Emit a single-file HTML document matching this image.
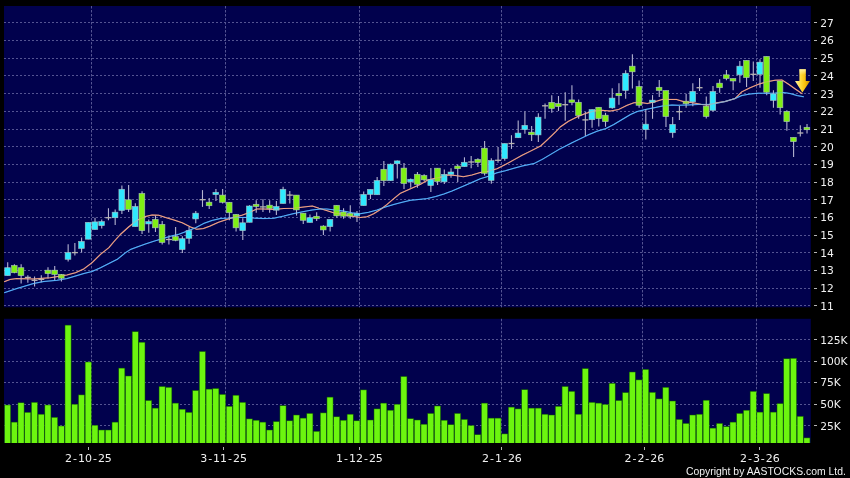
<!DOCTYPE html>
<html><head><meta charset="utf-8"><title>Chart</title>
<style>html,body{margin:0;padding:0;background:#000;overflow:hidden}svg{display:block;will-change:transform}</style></head>
<body><svg width="850" height="478" viewBox="0 0 850 478">
<rect width="850" height="478" fill="#000"/>
<rect x="4" y="6" width="806.8" height="301.3" fill="#01014d"/>
<rect x="4" y="318.8" width="806.8" height="124.3" fill="#01014d"/>
<g stroke="#545492" stroke-width="1" stroke-dasharray="2 2" fill="none">
<path d="M4 22.5H810.8"/>
<path d="M4 40.5H810.8"/>
<path d="M4 58.5H810.8"/>
<path d="M4 75.5H810.8"/>
<path d="M4 93.5H810.8"/>
<path d="M4 111.5H810.8"/>
<path d="M4 129.5H810.8"/>
<path d="M4 146.5H810.8"/>
<path d="M4 164.5H810.8"/>
<path d="M4 182.5H810.8"/>
<path d="M4 199.5H810.8"/>
<path d="M4 217.5H810.8"/>
<path d="M4 235.5H810.8"/>
<path d="M4 252.5H810.8"/>
<path d="M4 270.5H810.8"/>
<path d="M4 288.5H810.8"/>
<path d="M4 305.5H810.8"/>
<path d="M4 339.5H810.8"/>
<path d="M4 361.5H810.8"/>
<path d="M4 382.5H810.8"/>
<path d="M4 404.5H810.8"/>
<path d="M4 425.5H810.8"/>
<path d="M91.5 6V307.3" stroke-dasharray="2.5 1.5"/>
<path d="M91.5 318.8V443" stroke-dasharray="2.5 1.5"/>
<path d="M225.5 6V307.3" stroke-dasharray="2.5 1.5"/>
<path d="M225.5 318.8V443" stroke-dasharray="2.5 1.5"/>
<path d="M359.5 6V307.3" stroke-dasharray="2.5 1.5"/>
<path d="M359.5 318.8V443" stroke-dasharray="2.5 1.5"/>
<path d="M501.5 6V307.3" stroke-dasharray="2.5 1.5"/>
<path d="M501.5 318.8V443" stroke-dasharray="2.5 1.5"/>
<path d="M642.5 6V307.3" stroke-dasharray="2.5 1.5"/>
<path d="M642.5 318.8V443" stroke-dasharray="2.5 1.5"/>
<path d="M756.5 6V307.3" stroke-dasharray="2.5 1.5"/>
<path d="M756.5 318.8V443" stroke-dasharray="2.5 1.5"/>
</g>
<g fill="#6cf50f" stroke="#0c5800" stroke-width="0.5">
<rect x="4.55" y="405.0" width="6.1" height="39.0"/>
<rect x="11.27" y="422.1" width="6.1" height="21.9"/>
<rect x="17.98" y="402.8" width="6.1" height="41.2"/>
<rect x="24.70" y="412.3" width="6.1" height="31.7"/>
<rect x="31.42" y="402.3" width="6.1" height="41.7"/>
<rect x="38.14" y="414.2" width="6.1" height="29.8"/>
<rect x="44.85" y="405.0" width="6.1" height="39.0"/>
<rect x="51.57" y="417.3" width="6.1" height="26.7"/>
<rect x="58.29" y="426.0" width="6.1" height="18.0"/>
<rect x="65.00" y="325.1" width="6.1" height="118.9"/>
<rect x="71.72" y="404.2" width="6.1" height="39.8"/>
<rect x="78.44" y="394.9" width="6.1" height="49.1"/>
<rect x="85.15" y="362.0" width="6.1" height="82.0"/>
<rect x="91.87" y="425.2" width="6.1" height="18.8"/>
<rect x="98.59" y="430.0" width="6.1" height="14.0"/>
<rect x="105.30" y="430.0" width="6.1" height="14.0"/>
<rect x="112.02" y="422.1" width="6.1" height="21.9"/>
<rect x="118.74" y="368.1" width="6.1" height="75.9"/>
<rect x="125.46" y="376.0" width="6.1" height="68.0"/>
<rect x="132.17" y="331.7" width="6.1" height="112.3"/>
<rect x="138.89" y="342.2" width="6.1" height="101.8"/>
<rect x="145.61" y="400.5" width="6.1" height="43.5"/>
<rect x="152.32" y="408.1" width="6.1" height="35.9"/>
<rect x="159.04" y="386.5" width="6.1" height="57.5"/>
<rect x="165.76" y="387.3" width="6.1" height="56.7"/>
<rect x="172.47" y="403.1" width="6.1" height="40.9"/>
<rect x="179.19" y="409.2" width="6.1" height="34.8"/>
<rect x="185.91" y="412.3" width="6.1" height="31.7"/>
<rect x="192.63" y="390.5" width="6.1" height="53.5"/>
<rect x="199.34" y="351.5" width="6.1" height="92.5"/>
<rect x="206.06" y="389.1" width="6.1" height="54.9"/>
<rect x="212.78" y="388.5" width="6.1" height="55.5"/>
<rect x="219.49" y="394.4" width="6.1" height="49.6"/>
<rect x="226.21" y="406.3" width="6.1" height="37.7"/>
<rect x="232.93" y="395.2" width="6.1" height="48.8"/>
<rect x="239.65" y="402.3" width="6.1" height="41.7"/>
<rect x="246.36" y="418.9" width="6.1" height="25.1"/>
<rect x="253.08" y="420.2" width="6.1" height="23.8"/>
<rect x="259.80" y="422.1" width="6.1" height="21.9"/>
<rect x="266.51" y="430.0" width="6.1" height="14.0"/>
<rect x="273.23" y="421.6" width="6.1" height="22.4"/>
<rect x="279.95" y="405.7" width="6.1" height="38.3"/>
<rect x="286.66" y="420.8" width="6.1" height="23.2"/>
<rect x="293.38" y="415.0" width="6.1" height="29.0"/>
<rect x="300.10" y="418.1" width="6.1" height="25.9"/>
<rect x="306.81" y="413.4" width="6.1" height="30.6"/>
<rect x="313.53" y="431.3" width="6.1" height="12.7"/>
<rect x="320.25" y="412.9" width="6.1" height="31.1"/>
<rect x="326.97" y="397.1" width="6.1" height="46.9"/>
<rect x="333.68" y="416.8" width="6.1" height="27.2"/>
<rect x="340.40" y="420.2" width="6.1" height="23.8"/>
<rect x="347.12" y="414.2" width="6.1" height="29.8"/>
<rect x="353.83" y="420.8" width="6.1" height="23.2"/>
<rect x="360.55" y="389.9" width="6.1" height="54.1"/>
<rect x="367.27" y="420.0" width="6.1" height="24.0"/>
<rect x="373.99" y="408.9" width="6.1" height="35.1"/>
<rect x="380.70" y="403.1" width="6.1" height="40.9"/>
<rect x="387.42" y="410.2" width="6.1" height="33.8"/>
<rect x="394.14" y="404.2" width="6.1" height="39.8"/>
<rect x="400.85" y="376.5" width="6.1" height="67.5"/>
<rect x="407.57" y="418.7" width="6.1" height="25.3"/>
<rect x="414.29" y="420.0" width="6.1" height="24.0"/>
<rect x="421.00" y="424.2" width="6.1" height="19.8"/>
<rect x="427.72" y="413.4" width="6.1" height="30.6"/>
<rect x="434.44" y="406.0" width="6.1" height="38.0"/>
<rect x="441.15" y="420.2" width="6.1" height="23.8"/>
<rect x="447.87" y="424.7" width="6.1" height="19.3"/>
<rect x="454.59" y="413.4" width="6.1" height="30.6"/>
<rect x="461.31" y="419.4" width="6.1" height="24.6"/>
<rect x="468.02" y="425.5" width="6.1" height="18.5"/>
<rect x="474.74" y="434.7" width="6.1" height="9.3"/>
<rect x="481.46" y="403.1" width="6.1" height="40.9"/>
<rect x="488.17" y="418.1" width="6.1" height="25.9"/>
<rect x="494.89" y="418.1" width="6.1" height="25.9"/>
<rect x="501.61" y="433.9" width="6.1" height="10.1"/>
<rect x="508.32" y="407.1" width="6.1" height="36.9"/>
<rect x="515.04" y="408.9" width="6.1" height="35.1"/>
<rect x="521.76" y="389.7" width="6.1" height="54.3"/>
<rect x="528.48" y="408.1" width="6.1" height="35.9"/>
<rect x="535.19" y="408.1" width="6.1" height="35.9"/>
<rect x="541.91" y="414.2" width="6.1" height="29.8"/>
<rect x="548.63" y="415.0" width="6.1" height="29.0"/>
<rect x="555.34" y="406.3" width="6.1" height="37.7"/>
<rect x="562.06" y="386.5" width="6.1" height="57.5"/>
<rect x="568.78" y="391.3" width="6.1" height="52.7"/>
<rect x="575.49" y="414.2" width="6.1" height="29.8"/>
<rect x="582.21" y="368.6" width="6.1" height="75.4"/>
<rect x="588.93" y="402.3" width="6.1" height="41.7"/>
<rect x="595.65" y="403.1" width="6.1" height="40.9"/>
<rect x="602.36" y="404.4" width="6.1" height="39.6"/>
<rect x="609.08" y="383.3" width="6.1" height="60.7"/>
<rect x="615.80" y="400.5" width="6.1" height="43.5"/>
<rect x="622.51" y="392.6" width="6.1" height="51.4"/>
<rect x="629.23" y="372.0" width="6.1" height="72.0"/>
<rect x="635.95" y="379.9" width="6.1" height="64.1"/>
<rect x="642.66" y="369.4" width="6.1" height="74.6"/>
<rect x="649.38" y="392.3" width="6.1" height="51.7"/>
<rect x="656.10" y="398.9" width="6.1" height="45.1"/>
<rect x="662.82" y="387.3" width="6.1" height="56.7"/>
<rect x="669.53" y="401.0" width="6.1" height="43.0"/>
<rect x="676.25" y="419.4" width="6.1" height="24.6"/>
<rect x="682.97" y="423.4" width="6.1" height="20.6"/>
<rect x="689.68" y="415.0" width="6.1" height="29.0"/>
<rect x="696.40" y="414.2" width="6.1" height="29.8"/>
<rect x="703.12" y="400.2" width="6.1" height="43.8"/>
<rect x="709.83" y="428.1" width="6.1" height="15.9"/>
<rect x="716.55" y="423.4" width="6.1" height="20.6"/>
<rect x="723.27" y="426.6" width="6.1" height="17.4"/>
<rect x="729.99" y="422.1" width="6.1" height="21.9"/>
<rect x="736.70" y="413.4" width="6.1" height="30.6"/>
<rect x="743.42" y="410.2" width="6.1" height="33.8"/>
<rect x="750.14" y="391.3" width="6.1" height="52.7"/>
<rect x="756.85" y="412.1" width="6.1" height="31.9"/>
<rect x="763.57" y="393.6" width="6.1" height="50.4"/>
<rect x="770.29" y="412.1" width="6.1" height="31.9"/>
<rect x="777.00" y="403.6" width="6.1" height="40.4"/>
<rect x="783.72" y="358.8" width="6.1" height="85.2"/>
<rect x="790.44" y="358.3" width="6.1" height="85.7"/>
<rect x="797.16" y="416.3" width="6.1" height="27.7"/>
<rect x="803.87" y="437.9" width="6.1" height="6.1"/>
</g>
<rect x="0" y="443" width="850" height="35" fill="#000"/>
<path d="M4.2 281.8 L10.0 279.4 L16.8 278.6 L33.5 278.9 L50.3 277.7 L67.0 274.9 L75.4 272.7 L83.8 268.9 L92.1 262.7 L100.5 254.3 L108.9 247.6 L113.6 242.0 L120.3 234.5 L128.6 227.0 L137.0 220.3 L145.4 216.6 L152.1 214.9 L158.8 215.2 L165.5 217.4 L173.9 219.9 L182.2 222.8 L190.6 227.0 L196.7 229.3 L203.4 228.6 L210.1 226.1 L218.5 222.3 L226.9 219.4 L235.2 216.9 L241.9 215.2 L248.6 212.7 L257.0 208.9 L263.7 208.9 L273.8 209.4 L283.8 208.5 L293.9 208.2 L303.9 206.9 L312.3 206.0 L319.0 208.2 L325.7 210.2 L333.5 212.8 L343.5 214.5 L351.9 216.2 L360.3 217.5 L367.0 216.7 L373.7 213.7 L380.4 209.5 L387.1 204.4 L393.8 198.6 L400.5 193.2 L407.2 190.2 L413.9 187.2 L420.6 184.3 L427.3 180.2 L434.0 178.5 L442.3 176.8 L446.8 175.0 L455.1 175.4 L463.5 176.7 L471.9 175.0 L480.3 172.5 L488.6 171.2 L497.0 168.7 L505.4 164.5 L513.8 159.9 L522.1 155.3 L530.5 151.1 L540.6 146.0 L547.3 139.8 L555.6 131.8 L560.2 127.0 L568.5 121.2 L576.9 117.0 L585.3 113.6 L593.7 111.1 L602.0 110.3 L610.4 111.1 L618.8 109.4 L627.2 105.3 L633.9 102.7 L640.6 102.4 L647.3 103.6 L654.0 101.9 L662.3 99.4 L672.0 99.4 L676.4 99.4 L684.8 101.9 L693.1 102.8 L701.5 104.4 L708.2 104.9 L716.6 102.8 L725.0 101.6 L735.0 98.6 L741.7 91.9 L750.1 87.7 L758.5 84.3 L766.8 81.8 L775.2 80.2 L781.9 79.9 L788.6 84.3 L795.3 89.0 L802.4 93.9" fill="none" stroke="#eea084" stroke-width="1.05" stroke-linejoin="round"/>
<path d="M4.2 292.7 L16.8 288.6 L33.5 283.6 L43.6 281.6 L57.0 280.3 L67.0 278.6 L75.4 276.1 L83.8 273.6 L92.1 271.4 L100.5 267.7 L108.9 263.5 L117.3 259.3 L125.6 252.6 L130.3 249.6 L137.0 247.1 L145.4 244.0 L153.8 241.2 L162.1 238.7 L170.5 236.2 L178.9 234.2 L187.3 231.1 L195.6 227.8 L203.4 223.6 L211.8 220.6 L220.2 218.6 L228.5 218.1 L236.9 217.4 L245.3 217.4 L253.7 218.1 L263.7 218.6 L273.8 218.2 L283.8 216.1 L293.9 213.6 L303.9 211.5 L312.3 209.9 L320.7 209.0 L326.8 209.0 L335.1 210.0 L343.5 211.1 L351.9 212.8 L360.3 213.7 L368.6 212.3 L377.0 210.0 L385.4 207.0 L393.8 204.4 L402.1 202.3 L410.5 200.3 L418.9 199.4 L427.3 198.6 L435.6 196.6 L444.0 193.9 L452.0 191.0 L466.0 185.0 L471.9 182.4 L480.3 178.7 L488.6 176.2 L497.0 172.8 L505.4 170.7 L513.8 168.3 L522.1 166.1 L533.9 163.6 L542.2 159.4 L550.6 154.4 L559.0 149.4 L565.7 146.0 L572.0 142.7 L587.8 135.1 L597.0 131.2 L605.4 128.7 L613.8 124.5 L622.1 119.5 L630.5 114.5 L637.2 111.6 L645.6 109.4 L654.0 107.8 L662.3 106.1 L672.0 104.9 L678.1 105.3 L688.1 104.9 L698.2 104.4 L708.2 104.4 L716.6 103.3 L725.0 101.6 L735.0 98.6 L741.7 95.6 L750.1 93.9 L758.5 93.2 L766.8 93.3 L775.2 93.1 L783.6 92.5 L790.3 93.6 L797.0 95.6 L803.8 96.8" fill="none" stroke="#56b0f8" stroke-width="1.05" stroke-linejoin="round"/>
<path d="M7.70 262.2V275.6" stroke="#b4b4d0" stroke-width="1.1"/>
<rect x="4.70" y="267.7" width="5.7" height="7.9" fill="#2fe9ff" stroke="#b4c8c8" stroke-width="0.7" stroke-opacity="0.8"/>
<path d="M14.42 264.3V273.2" stroke="#b4b4d0" stroke-width="1.1"/>
<rect x="11.42" y="265.5" width="5.7" height="7.2" fill="#7fef14" stroke="#b4c8c8" stroke-width="0.7" stroke-opacity="0.8"/>
<path d="M21.13 264.3V283.6" stroke="#b4b4d0" stroke-width="1.1"/>
<rect x="18.13" y="267.7" width="5.7" height="7.9" fill="#7fef14" stroke="#b4c8c8" stroke-width="0.7" stroke-opacity="0.8"/>
<path d="M27.85 275.2V282.8" stroke="#b4b4d0" stroke-width="1.1"/>
<path d="M24.85 277.4H30.85" stroke="#b8b4b0" stroke-width="1.3"/>
<path d="M34.57 276.6V286.6" stroke="#b4b4d0" stroke-width="1.1"/>
<path d="M31.57 280.3H37.57" stroke="#b8b4b0" stroke-width="1.3"/>
<path d="M41.29 275.2V282.3" stroke="#b4b4d0" stroke-width="1.1"/>
<path d="M38.29 279.4H44.29" stroke="#b8b4b0" stroke-width="1.3"/>
<path d="M48.00 267.2V278.6" stroke="#b4b4d0" stroke-width="1.1"/>
<rect x="45.00" y="270.2" width="5.7" height="3.4" fill="#7fef14" stroke="#b4c8c8" stroke-width="0.7" stroke-opacity="0.8"/>
<path d="M54.72 266.0V280.3" stroke="#b4b4d0" stroke-width="1.1"/>
<rect x="51.72" y="270.2" width="5.7" height="4.2" fill="#7fef14" stroke="#b4c8c8" stroke-width="0.7" stroke-opacity="0.8"/>
<path d="M61.44 273.9V281.6" stroke="#b4b4d0" stroke-width="1.1"/>
<rect x="58.44" y="274.4" width="5.7" height="3.8" fill="#7fef14" stroke="#b4c8c8" stroke-width="0.7" stroke-opacity="0.8"/>
<path d="M68.15 244.2V261.5" stroke="#b4b4d0" stroke-width="1.1"/>
<rect x="65.15" y="252.6" width="5.7" height="6.7" fill="#2fe9ff" stroke="#b4c8c8" stroke-width="0.7" stroke-opacity="0.8"/>
<path d="M74.87 243.1V255.5" stroke="#b4b4d0" stroke-width="1.1"/>
<path d="M71.87 252.6H77.87" stroke="#b8b4b0" stroke-width="1.3"/>
<path d="M81.59 237.4V252.6" stroke="#b4b4d0" stroke-width="1.1"/>
<rect x="78.59" y="241.5" width="5.7" height="6.9" fill="#2fe9ff" stroke="#b4c8c8" stroke-width="0.7" stroke-opacity="0.8"/>
<path d="M88.30 222.4V239.2" stroke="#b4b4d0" stroke-width="1.1"/>
<rect x="85.30" y="222.4" width="5.7" height="16.8" fill="#2fe9ff" stroke="#b4c8c8" stroke-width="0.7" stroke-opacity="0.8"/>
<path d="M95.02 217.7V229.5" stroke="#b4b4d0" stroke-width="1.1"/>
<rect x="92.02" y="221.9" width="5.7" height="7.6" fill="#2fe9ff" stroke="#b4c8c8" stroke-width="0.7" stroke-opacity="0.8"/>
<path d="M101.74 219.4V228.6" stroke="#b4b4d0" stroke-width="1.1"/>
<rect x="98.74" y="221.6" width="5.7" height="4.0" fill="#2fe9ff" stroke="#b4c8c8" stroke-width="0.7" stroke-opacity="0.8"/>
<path d="M108.45 208.2V220.3" stroke="#b4b4d0" stroke-width="1.1"/>
<path d="M105.45 217.7H111.45" stroke="#b8b4b0" stroke-width="1.3"/>
<path d="M115.17 209.4V224.9" stroke="#b4b4d0" stroke-width="1.1"/>
<rect x="112.17" y="212.2" width="5.7" height="5.5" fill="#2fe9ff" stroke="#b4c8c8" stroke-width="0.7" stroke-opacity="0.8"/>
<path d="M121.89 185.4V213.9" stroke="#b4b4d0" stroke-width="1.1"/>
<rect x="118.89" y="189.3" width="5.7" height="21.2" fill="#2fe9ff" stroke="#b4c8c8" stroke-width="0.7" stroke-opacity="0.8"/>
<path d="M128.61 185.1V211.9" stroke="#b4b4d0" stroke-width="1.1"/>
<rect x="125.61" y="199.8" width="5.7" height="9.6" fill="#7fef14" stroke="#b4c8c8" stroke-width="0.7" stroke-opacity="0.8"/>
<path d="M135.32 203.2V226.6" stroke="#b4b4d0" stroke-width="1.1"/>
<rect x="132.32" y="206.5" width="5.7" height="20.1" fill="#2fe9ff" stroke="#b4c8c8" stroke-width="0.7" stroke-opacity="0.8"/>
<path d="M142.04 191.3V234.0" stroke="#b4b4d0" stroke-width="1.1"/>
<rect x="139.04" y="193.5" width="5.7" height="37.1" fill="#7fef14" stroke="#b4c8c8" stroke-width="0.7" stroke-opacity="0.8"/>
<path d="M148.76 219.4V232.8" stroke="#b4b4d0" stroke-width="1.1"/>
<rect x="145.76" y="221.6" width="5.7" height="2.3" fill="#2fe9ff" stroke="#b4c8c8" stroke-width="0.7" stroke-opacity="0.8"/>
<path d="M155.47 215.6V232.0" stroke="#b4b4d0" stroke-width="1.1"/>
<rect x="152.47" y="219.4" width="5.7" height="8.4" fill="#7fef14" stroke="#b4c8c8" stroke-width="0.7" stroke-opacity="0.8"/>
<path d="M162.19 221.1V244.5" stroke="#b4b4d0" stroke-width="1.1"/>
<rect x="159.19" y="224.4" width="5.7" height="18.0" fill="#7fef14" stroke="#b4c8c8" stroke-width="0.7" stroke-opacity="0.8"/>
<path d="M168.91 236.2V244.5" stroke="#b4b4d0" stroke-width="1.1"/>
<path d="M165.91 239.5H171.91" stroke="#b8b4b0" stroke-width="1.3"/>
<path d="M175.62 227.0V241.2" stroke="#b4b4d0" stroke-width="1.1"/>
<rect x="172.62" y="236.5" width="5.7" height="3.9" fill="#7fef14" stroke="#b4c8c8" stroke-width="0.7" stroke-opacity="0.8"/>
<path d="M182.34 236.2V253.0" stroke="#b4b4d0" stroke-width="1.1"/>
<rect x="179.34" y="238.7" width="5.7" height="10.8" fill="#2fe9ff" stroke="#b4c8c8" stroke-width="0.7" stroke-opacity="0.8"/>
<path d="M189.06 227.0V243.7" stroke="#b4b4d0" stroke-width="1.1"/>
<rect x="186.06" y="230.6" width="5.7" height="7.7" fill="#2fe9ff" stroke="#b4c8c8" stroke-width="0.7" stroke-opacity="0.8"/>
<path d="M195.78 211.0V223.3" stroke="#b4b4d0" stroke-width="1.1"/>
<rect x="192.78" y="213.2" width="5.7" height="5.7" fill="#2fe9ff" stroke="#b4c8c8" stroke-width="0.7" stroke-opacity="0.8"/>
<path d="M202.49 190.1V206.9" stroke="#b4b4d0" stroke-width="1.1"/>
<path d="M199.49 199.7H205.49" stroke="#b8b4b0" stroke-width="1.3"/>
<path d="M209.21 198.1V209.0" stroke="#b4b4d0" stroke-width="1.1"/>
<rect x="206.21" y="202.2" width="5.7" height="3.5" fill="#7fef14" stroke="#b4c8c8" stroke-width="0.7" stroke-opacity="0.8"/>
<path d="M215.93 188.9V201.0" stroke="#b4b4d0" stroke-width="1.1"/>
<rect x="212.93" y="192.3" width="5.7" height="2.3" fill="#2fe9ff" stroke="#b4c8c8" stroke-width="0.7" stroke-opacity="0.8"/>
<path d="M222.64 188.9V203.5" stroke="#b4b4d0" stroke-width="1.1"/>
<rect x="219.64" y="195.1" width="5.7" height="7.2" fill="#7fef14" stroke="#b4c8c8" stroke-width="0.7" stroke-opacity="0.8"/>
<path d="M229.36 202.3V220.3" stroke="#b4b4d0" stroke-width="1.1"/>
<rect x="226.36" y="202.3" width="5.7" height="10.4" fill="#7fef14" stroke="#b4c8c8" stroke-width="0.7" stroke-opacity="0.8"/>
<path d="M236.08 213.9V231.6" stroke="#b4b4d0" stroke-width="1.1"/>
<rect x="233.08" y="214.4" width="5.7" height="13.4" fill="#7fef14" stroke="#b4c8c8" stroke-width="0.7" stroke-opacity="0.8"/>
<path d="M242.79 218.2V240.0" stroke="#b4b4d0" stroke-width="1.1"/>
<rect x="239.79" y="222.8" width="5.7" height="7.8" fill="#2fe9ff" stroke="#b4c8c8" stroke-width="0.7" stroke-opacity="0.8"/>
<path d="M249.51 205.2V222.3" stroke="#b4b4d0" stroke-width="1.1"/>
<rect x="246.51" y="206.0" width="5.7" height="16.3" fill="#2fe9ff" stroke="#b4c8c8" stroke-width="0.7" stroke-opacity="0.8"/>
<path d="M256.23 200.2V212.7" stroke="#b4b4d0" stroke-width="1.1"/>
<rect x="253.23" y="204.3" width="5.7" height="2.2" fill="#7fef14" stroke="#b4c8c8" stroke-width="0.7" stroke-opacity="0.8"/>
<path d="M262.95 199.3V211.9" stroke="#b4b4d0" stroke-width="1.1"/>
<path d="M259.95 206.9H265.95" stroke="#b8b4b0" stroke-width="1.3"/>
<path d="M269.66 200.2V212.7" stroke="#b4b4d0" stroke-width="1.1"/>
<rect x="266.66" y="205.2" width="5.7" height="3.3" fill="#7fef14" stroke="#b4c8c8" stroke-width="0.7" stroke-opacity="0.8"/>
<path d="M276.38 201.0V214.9" stroke="#b4b4d0" stroke-width="1.1"/>
<rect x="273.38" y="206.5" width="5.7" height="3.7" fill="#2fe9ff" stroke="#b4c8c8" stroke-width="0.7" stroke-opacity="0.8"/>
<path d="M283.10 186.8V203.5" stroke="#b4b4d0" stroke-width="1.1"/>
<rect x="280.10" y="189.3" width="5.7" height="14.2" fill="#2fe9ff" stroke="#b4c8c8" stroke-width="0.7" stroke-opacity="0.8"/>
<path d="M289.81 190.9V203.5" stroke="#b4b4d0" stroke-width="1.1"/>
<path d="M286.81 195.1H292.81" stroke="#b8b4b0" stroke-width="1.3"/>
<path d="M296.53 195.1V215.6" stroke="#b4b4d0" stroke-width="1.1"/>
<rect x="293.53" y="195.1" width="5.7" height="14.8" fill="#7fef14" stroke="#b4c8c8" stroke-width="0.7" stroke-opacity="0.8"/>
<path d="M303.25 213.2V223.9" stroke="#b4b4d0" stroke-width="1.1"/>
<rect x="300.25" y="213.2" width="5.7" height="7.1" fill="#7fef14" stroke="#b4c8c8" stroke-width="0.7" stroke-opacity="0.8"/>
<path d="M309.96 214.4V222.4" stroke="#b4b4d0" stroke-width="1.1"/>
<rect x="306.96" y="217.7" width="5.7" height="4.7" fill="#2fe9ff" stroke="#b4c8c8" stroke-width="0.7" stroke-opacity="0.8"/>
<path d="M316.68 212.2V221.1" stroke="#b4b4d0" stroke-width="1.1"/>
<rect x="313.68" y="216.3" width="5.7" height="2.4" fill="#7fef14" stroke="#b4c8c8" stroke-width="0.7" stroke-opacity="0.8"/>
<path d="M323.40 225.3V235.0" stroke="#b4b4d0" stroke-width="1.1"/>
<rect x="320.40" y="226.1" width="5.7" height="3.8" fill="#7fef14" stroke="#b4c8c8" stroke-width="0.7" stroke-opacity="0.8"/>
<path d="M330.12 219.4V231.6" stroke="#b4b4d0" stroke-width="1.1"/>
<rect x="327.12" y="219.4" width="5.7" height="7.2" fill="#2fe9ff" stroke="#b4c8c8" stroke-width="0.7" stroke-opacity="0.8"/>
<path d="M336.83 205.3V217.8" stroke="#b4b4d0" stroke-width="1.1"/>
<rect x="333.83" y="205.3" width="5.7" height="10.5" fill="#7fef14" stroke="#b4c8c8" stroke-width="0.7" stroke-opacity="0.8"/>
<path d="M343.55 208.3V218.7" stroke="#b4b4d0" stroke-width="1.1"/>
<rect x="340.55" y="212.0" width="5.7" height="4.2" fill="#7fef14" stroke="#b4c8c8" stroke-width="0.7" stroke-opacity="0.8"/>
<path d="M350.27 205.3V218.7" stroke="#b4b4d0" stroke-width="1.1"/>
<rect x="347.27" y="213.3" width="5.7" height="2.9" fill="#7fef14" stroke="#b4c8c8" stroke-width="0.7" stroke-opacity="0.8"/>
<path d="M356.98 211.1V222.0" stroke="#b4b4d0" stroke-width="1.1"/>
<rect x="353.98" y="213.3" width="5.7" height="2.5" fill="#2fe9ff" stroke="#b4c8c8" stroke-width="0.7" stroke-opacity="0.8"/>
<path d="M363.70 191.5V205.6" stroke="#b4b4d0" stroke-width="1.1"/>
<rect x="360.70" y="194.4" width="5.7" height="11.2" fill="#2fe9ff" stroke="#b4c8c8" stroke-width="0.7" stroke-opacity="0.8"/>
<path d="M370.42 189.4V199.1" stroke="#b4b4d0" stroke-width="1.1"/>
<rect x="367.42" y="189.4" width="5.7" height="5.0" fill="#2fe9ff" stroke="#b4c8c8" stroke-width="0.7" stroke-opacity="0.8"/>
<path d="M377.13 177.1V194.7" stroke="#b4b4d0" stroke-width="1.1"/>
<rect x="374.13" y="180.5" width="5.7" height="14.2" fill="#2fe9ff" stroke="#b4c8c8" stroke-width="0.7" stroke-opacity="0.8"/>
<path d="M383.85 160.9V186.0" stroke="#b4b4d0" stroke-width="1.1"/>
<rect x="380.85" y="169.3" width="5.7" height="11.4" fill="#7fef14" stroke="#b4c8c8" stroke-width="0.7" stroke-opacity="0.8"/>
<path d="M390.57 163.4V180.7" stroke="#b4b4d0" stroke-width="1.1"/>
<rect x="387.57" y="164.2" width="5.7" height="16.5" fill="#2fe9ff" stroke="#b4c8c8" stroke-width="0.7" stroke-opacity="0.8"/>
<path d="M397.29 160.4V178.5" stroke="#b4b4d0" stroke-width="1.1"/>
<rect x="394.29" y="160.9" width="5.7" height="2.8" fill="#2fe9ff" stroke="#b4c8c8" stroke-width="0.7" stroke-opacity="0.8"/>
<path d="M404.00 163.1V188.9" stroke="#b4b4d0" stroke-width="1.1"/>
<rect x="401.00" y="168.1" width="5.7" height="15.4" fill="#7fef14" stroke="#b4c8c8" stroke-width="0.7" stroke-opacity="0.8"/>
<path d="M410.72 178.5V187.7" stroke="#b4b4d0" stroke-width="1.1"/>
<rect x="407.72" y="179.3" width="5.7" height="2.5" fill="#2fe9ff" stroke="#b4c8c8" stroke-width="0.7" stroke-opacity="0.8"/>
<path d="M417.44 172.1V187.7" stroke="#b4b4d0" stroke-width="1.1"/>
<rect x="414.44" y="174.3" width="5.7" height="10.0" fill="#7fef14" stroke="#b4c8c8" stroke-width="0.7" stroke-opacity="0.8"/>
<path d="M424.15 174.3V181.0" stroke="#b4b4d0" stroke-width="1.1"/>
<rect x="421.15" y="175.5" width="5.7" height="4.3" fill="#7fef14" stroke="#b4c8c8" stroke-width="0.7" stroke-opacity="0.8"/>
<path d="M430.87 168.1V191.9" stroke="#b4b4d0" stroke-width="1.1"/>
<rect x="427.87" y="179.3" width="5.7" height="6.2" fill="#2fe9ff" stroke="#b4c8c8" stroke-width="0.7" stroke-opacity="0.8"/>
<path d="M437.59 168.2V185.0" stroke="#b4b4d0" stroke-width="1.1"/>
<rect x="434.59" y="168.2" width="5.7" height="13.2" fill="#7fef14" stroke="#b4c8c8" stroke-width="0.7" stroke-opacity="0.8"/>
<path d="M444.30 169.4V183.9" stroke="#b4b4d0" stroke-width="1.1"/>
<rect x="441.30" y="174.4" width="5.7" height="7.4" fill="#2fe9ff" stroke="#b4c8c8" stroke-width="0.7" stroke-opacity="0.8"/>
<path d="M451.02 168.2V177.8" stroke="#b4b4d0" stroke-width="1.1"/>
<rect x="448.02" y="172.0" width="5.7" height="2.4" fill="#2fe9ff" stroke="#b4c8c8" stroke-width="0.7" stroke-opacity="0.8"/>
<path d="M457.74 164.5V182.0" stroke="#b4b4d0" stroke-width="1.1"/>
<rect x="454.74" y="166.1" width="5.7" height="2.6" fill="#7fef14" stroke="#b4c8c8" stroke-width="0.7" stroke-opacity="0.8"/>
<path d="M464.46 157.3V166.6" stroke="#b4b4d0" stroke-width="1.1"/>
<rect x="461.46" y="162.3" width="5.7" height="4.3" fill="#2fe9ff" stroke="#b4c8c8" stroke-width="0.7" stroke-opacity="0.8"/>
<path d="M471.17 156.1V168.3" stroke="#b4b4d0" stroke-width="1.1"/>
<path d="M468.17 162.0H474.17" stroke="#b8b4b0" stroke-width="1.3"/>
<path d="M477.89 158.3V167.0" stroke="#b4b4d0" stroke-width="1.1"/>
<rect x="474.89" y="159.4" width="5.7" height="3.1" fill="#7fef14" stroke="#b4c8c8" stroke-width="0.7" stroke-opacity="0.8"/>
<path d="M484.61 141.0V175.4" stroke="#b4b4d0" stroke-width="1.1"/>
<rect x="481.61" y="148.2" width="5.7" height="25.1" fill="#7fef14" stroke="#b4c8c8" stroke-width="0.7" stroke-opacity="0.8"/>
<path d="M491.32 158.3V183.7" stroke="#b4b4d0" stroke-width="1.1"/>
<rect x="488.32" y="160.6" width="5.7" height="19.8" fill="#2fe9ff" stroke="#b4c8c8" stroke-width="0.7" stroke-opacity="0.8"/>
<path d="M498.04 146.9V162.8" stroke="#b4b4d0" stroke-width="1.1"/>
<path d="M495.04 160.3H501.04" stroke="#b8b4b0" stroke-width="1.3"/>
<path d="M504.76 143.5V160.8" stroke="#b4b4d0" stroke-width="1.1"/>
<rect x="501.76" y="143.5" width="5.7" height="15.1" fill="#2fe9ff" stroke="#b4c8c8" stroke-width="0.7" stroke-opacity="0.8"/>
<path d="M511.47 135.2V148.9" stroke="#b4b4d0" stroke-width="1.1"/>
<path d="M508.47 143.5H514.47" stroke="#b8b4b0" stroke-width="1.3"/>
<path d="M518.19 120.4V137.7" stroke="#b4b4d0" stroke-width="1.1"/>
<rect x="515.19" y="133.1" width="5.7" height="4.6" fill="#2fe9ff" stroke="#b4c8c8" stroke-width="0.7" stroke-opacity="0.8"/>
<path d="M524.91 111.4V133.8" stroke="#b4b4d0" stroke-width="1.1"/>
<rect x="521.91" y="125.4" width="5.7" height="4.2" fill="#2fe9ff" stroke="#b4c8c8" stroke-width="0.7" stroke-opacity="0.8"/>
<path d="M531.63 126.0V141.0" stroke="#b4b4d0" stroke-width="1.1"/>
<rect x="528.63" y="132.2" width="5.7" height="2.5" fill="#7fef14" stroke="#b4c8c8" stroke-width="0.7" stroke-opacity="0.8"/>
<path d="M538.34 113.3V141.9" stroke="#b4b4d0" stroke-width="1.1"/>
<rect x="535.34" y="117.2" width="5.7" height="17.7" fill="#2fe9ff" stroke="#b4c8c8" stroke-width="0.7" stroke-opacity="0.8"/>
<path d="M545.06 103.6V118.8" stroke="#b4b4d0" stroke-width="1.1"/>
<path d="M542.06 105.8H548.06" stroke="#b8b4b0" stroke-width="1.3"/>
<path d="M551.78 95.2V112.7" stroke="#b4b4d0" stroke-width="1.1"/>
<rect x="548.78" y="102.4" width="5.7" height="6.1" fill="#7fef14" stroke="#b4c8c8" stroke-width="0.7" stroke-opacity="0.8"/>
<path d="M558.49 96.0V111.0" stroke="#b4b4d0" stroke-width="1.1"/>
<rect x="555.49" y="103.6" width="5.7" height="3.0" fill="#7fef14" stroke="#b4c8c8" stroke-width="0.7" stroke-opacity="0.8"/>
<path d="M565.21 92.2V120.8" stroke="#b4b4d0" stroke-width="1.1"/>
<path d="M562.21 104.7H568.21" stroke="#b8b4b0" stroke-width="1.3"/>
<path d="M571.93 85.2V105.3" stroke="#b4b4d0" stroke-width="1.1"/>
<rect x="568.93" y="99.9" width="5.7" height="2.5" fill="#7fef14" stroke="#b4c8c8" stroke-width="0.7" stroke-opacity="0.8"/>
<path d="M578.64 99.4V118.7" stroke="#b4b4d0" stroke-width="1.1"/>
<rect x="575.64" y="102.3" width="5.7" height="13.2" fill="#7fef14" stroke="#b4c8c8" stroke-width="0.7" stroke-opacity="0.8"/>
<path d="M585.36 111.9V136.1" stroke="#b4b4d0" stroke-width="1.1"/>
<path d="M582.36 119.9H588.36" stroke="#b8b4b0" stroke-width="1.3"/>
<path d="M592.08 109.6V127.8" stroke="#b4b4d0" stroke-width="1.1"/>
<rect x="589.08" y="109.6" width="5.7" height="10.1" fill="#2fe9ff" stroke="#b4c8c8" stroke-width="0.7" stroke-opacity="0.8"/>
<path d="M598.80 107.3V126.5" stroke="#b4b4d0" stroke-width="1.1"/>
<rect x="595.80" y="107.3" width="5.7" height="11.3" fill="#7fef14" stroke="#b4c8c8" stroke-width="0.7" stroke-opacity="0.8"/>
<path d="M605.51 112.8V126.8" stroke="#b4b4d0" stroke-width="1.1"/>
<rect x="602.51" y="115.2" width="5.7" height="6.4" fill="#7fef14" stroke="#b4c8c8" stroke-width="0.7" stroke-opacity="0.8"/>
<path d="M612.23 88.2V108.8" stroke="#b4b4d0" stroke-width="1.1"/>
<rect x="609.23" y="98.1" width="5.7" height="9.7" fill="#2fe9ff" stroke="#b4c8c8" stroke-width="0.7" stroke-opacity="0.8"/>
<path d="M618.95 83.2V104.7" stroke="#b4b4d0" stroke-width="1.1"/>
<rect x="615.95" y="93.4" width="5.7" height="2.3" fill="#7fef14" stroke="#b4c8c8" stroke-width="0.7" stroke-opacity="0.8"/>
<path d="M625.66 70.3V98.8" stroke="#b4b4d0" stroke-width="1.1"/>
<rect x="622.66" y="73.3" width="5.7" height="17.2" fill="#2fe9ff" stroke="#b4c8c8" stroke-width="0.7" stroke-opacity="0.8"/>
<path d="M632.38 54.3V88.5" stroke="#b4b4d0" stroke-width="1.1"/>
<rect x="629.38" y="66.2" width="5.7" height="5.6" fill="#7fef14" stroke="#b4c8c8" stroke-width="0.7" stroke-opacity="0.8"/>
<path d="M639.10 80.5V107.8" stroke="#b4b4d0" stroke-width="1.1"/>
<rect x="636.10" y="86.5" width="5.7" height="18.8" fill="#7fef14" stroke="#b4c8c8" stroke-width="0.7" stroke-opacity="0.8"/>
<path d="M645.82 109.1V139.4" stroke="#b4b4d0" stroke-width="1.1"/>
<rect x="642.82" y="124.2" width="5.7" height="5.4" fill="#2fe9ff" stroke="#b4c8c8" stroke-width="0.7" stroke-opacity="0.8"/>
<path d="M652.53 95.1V118.8" stroke="#b4b4d0" stroke-width="1.1"/>
<rect x="649.53" y="100.2" width="5.7" height="2.1" fill="#2fe9ff" stroke="#b4c8c8" stroke-width="0.7" stroke-opacity="0.8"/>
<path d="M659.25 80.1V96.9" stroke="#b4b4d0" stroke-width="1.1"/>
<rect x="656.25" y="87.3" width="5.7" height="3.2" fill="#7fef14" stroke="#b4c8c8" stroke-width="0.7" stroke-opacity="0.8"/>
<path d="M665.97 90.6V127.0" stroke="#b4b4d0" stroke-width="1.1"/>
<rect x="662.97" y="90.6" width="5.7" height="25.9" fill="#7fef14" stroke="#b4c8c8" stroke-width="0.7" stroke-opacity="0.8"/>
<path d="M672.68 117.0V137.7" stroke="#b4b4d0" stroke-width="1.1"/>
<rect x="669.68" y="124.4" width="5.7" height="8.3" fill="#2fe9ff" stroke="#b4c8c8" stroke-width="0.7" stroke-opacity="0.8"/>
<path d="M679.40 106.0V119.9" stroke="#b4b4d0" stroke-width="1.1"/>
<path d="M676.40 111.7H682.40" stroke="#b8b4b0" stroke-width="1.3"/>
<path d="M686.12 93.8V107.7" stroke="#b4b4d0" stroke-width="1.1"/>
<rect x="683.12" y="101.2" width="5.7" height="2.5" fill="#7fef14" stroke="#b4c8c8" stroke-width="0.7" stroke-opacity="0.8"/>
<path d="M692.83 83.2V106.2" stroke="#b4b4d0" stroke-width="1.1"/>
<rect x="689.83" y="91.4" width="5.7" height="10.4" fill="#2fe9ff" stroke="#b4c8c8" stroke-width="0.7" stroke-opacity="0.8"/>
<path d="M699.55 78.1V91.0" stroke="#b4b4d0" stroke-width="1.1"/>
<path d="M696.55 87.7H702.55" stroke="#b8b4b0" stroke-width="1.3"/>
<path d="M706.27 96.4V118.6" stroke="#b4b4d0" stroke-width="1.1"/>
<rect x="703.27" y="106.1" width="5.7" height="10.4" fill="#7fef14" stroke="#b4c8c8" stroke-width="0.7" stroke-opacity="0.8"/>
<path d="M712.99 86.0V111.5" stroke="#b4b4d0" stroke-width="1.1"/>
<rect x="709.99" y="91.5" width="5.7" height="18.8" fill="#2fe9ff" stroke="#b4c8c8" stroke-width="0.7" stroke-opacity="0.8"/>
<path d="M719.70 79.3V92.7" stroke="#b4b4d0" stroke-width="1.1"/>
<rect x="716.70" y="83.2" width="5.7" height="4.5" fill="#7fef14" stroke="#b4c8c8" stroke-width="0.7" stroke-opacity="0.8"/>
<path d="M726.42 70.1V80.2" stroke="#b4b4d0" stroke-width="1.1"/>
<rect x="723.42" y="74.8" width="5.7" height="3.7" fill="#7fef14" stroke="#b4c8c8" stroke-width="0.7" stroke-opacity="0.8"/>
<path d="M733.14 78.5V90.2" stroke="#b4b4d0" stroke-width="1.1"/>
<rect x="730.14" y="78.5" width="5.7" height="2.5" fill="#7fef14" stroke="#b4c8c8" stroke-width="0.7" stroke-opacity="0.8"/>
<path d="M739.85 60.9V82.7" stroke="#b4b4d0" stroke-width="1.1"/>
<rect x="736.85" y="66.2" width="5.7" height="8.6" fill="#2fe9ff" stroke="#b4c8c8" stroke-width="0.7" stroke-opacity="0.8"/>
<path d="M746.57 60.4V86.9" stroke="#b4b4d0" stroke-width="1.1"/>
<rect x="743.57" y="60.4" width="5.7" height="17.2" fill="#7fef14" stroke="#b4c8c8" stroke-width="0.7" stroke-opacity="0.8"/>
<path d="M753.29 61.4V81.0" stroke="#b4b4d0" stroke-width="1.1"/>
<path d="M750.29 74.3H756.29" stroke="#b8b4b0" stroke-width="1.3"/>
<path d="M760.00 59.2V87.7" stroke="#b4b4d0" stroke-width="1.1"/>
<rect x="757.00" y="62.2" width="5.7" height="12.1" fill="#2fe9ff" stroke="#b4c8c8" stroke-width="0.7" stroke-opacity="0.8"/>
<path d="M766.72 56.4V95.2" stroke="#b4b4d0" stroke-width="1.1"/>
<rect x="763.72" y="56.4" width="5.7" height="35.8" fill="#7fef14" stroke="#b4c8c8" stroke-width="0.7" stroke-opacity="0.8"/>
<path d="M773.44 90.2V107.7" stroke="#b4b4d0" stroke-width="1.1"/>
<rect x="770.44" y="93.9" width="5.7" height="6.5" fill="#2fe9ff" stroke="#b4c8c8" stroke-width="0.7" stroke-opacity="0.8"/>
<path d="M780.15 81.0V114.6" stroke="#b4b4d0" stroke-width="1.1"/>
<rect x="777.15" y="81.0" width="5.7" height="26.7" fill="#7fef14" stroke="#b4c8c8" stroke-width="0.7" stroke-opacity="0.8"/>
<path d="M786.87 110.2V130.7" stroke="#b4b4d0" stroke-width="1.1"/>
<rect x="783.87" y="111.4" width="5.7" height="10.2" fill="#7fef14" stroke="#b4c8c8" stroke-width="0.7" stroke-opacity="0.8"/>
<path d="M793.59 137.4V157.0" stroke="#b4b4d0" stroke-width="1.1"/>
<rect x="790.59" y="137.4" width="5.7" height="4.2" fill="#7fef14" stroke="#b4c8c8" stroke-width="0.7" stroke-opacity="0.8"/>
<path d="M800.31 125.2V136.5" stroke="#b4b4d0" stroke-width="1.1"/>
<path d="M797.31 133.0H803.31" stroke="#b8b4b0" stroke-width="1.3"/>
<path d="M807.02 124.0V133.5" stroke="#b4b4d0" stroke-width="1.1"/>
<rect x="804.02" y="127.3" width="5.7" height="2.4" fill="#7fef14" stroke="#b4c8c8" stroke-width="0.7" stroke-opacity="0.8"/>
<path d="M4.2 292.7 L16.8 288.6 L33.5 283.6 L43.6 281.6 L57.0 280.3 L67.0 278.6 L75.4 276.1 L83.8 273.6 L92.1 271.4 L100.5 267.7 L108.9 263.5 L117.3 259.3 L125.6 252.6 L130.3 249.6 L137.0 247.1 L145.4 244.0 L153.8 241.2 L162.1 238.7 L170.5 236.2 L178.9 234.2 L187.3 231.1 L195.6 227.8 L203.4 223.6 L211.8 220.6 L220.2 218.6 L228.5 218.1 L236.9 217.4 L245.3 217.4 L253.7 218.1 L263.7 218.6 L273.8 218.2 L283.8 216.1 L293.9 213.6 L303.9 211.5 L312.3 209.9 L320.7 209.0 L326.8 209.0 L335.1 210.0 L343.5 211.1 L351.9 212.8 L360.3 213.7 L368.6 212.3 L377.0 210.0 L385.4 207.0 L393.8 204.4 L402.1 202.3 L410.5 200.3 L418.9 199.4 L427.3 198.6 L435.6 196.6 L444.0 193.9 L452.0 191.0 L466.0 185.0 L471.9 182.4 L480.3 178.7 L488.6 176.2 L497.0 172.8 L505.4 170.7 L513.8 168.3 L522.1 166.1 L533.9 163.6 L542.2 159.4 L550.6 154.4 L559.0 149.4 L565.7 146.0 L572.0 142.7 L587.8 135.1 L597.0 131.2 L605.4 128.7 L613.8 124.5 L622.1 119.5 L630.5 114.5 L637.2 111.6 L645.6 109.4 L654.0 107.8 L662.3 106.1 L672.0 104.9 L678.1 105.3 L688.1 104.9 L698.2 104.4 L708.2 104.4 L716.6 103.3 L725.0 101.6 L735.0 98.6 L741.7 95.6 L750.1 93.9 L758.5 93.2 L766.8 93.3 L775.2 93.1 L783.6 92.5 L790.3 93.6 L797.0 95.6 L803.8 96.8" fill="none" stroke="#56b4ff" stroke-width="1.2" stroke-linejoin="round" opacity="0.4"/>
<path d="M4.2 281.8 L10.0 279.4 L16.8 278.6 L33.5 278.9 L50.3 277.7 L67.0 274.9 L75.4 272.7 L83.8 268.9 L92.1 262.7 L100.5 254.3 L108.9 247.6 L113.6 242.0 L120.3 234.5 L128.6 227.0 L137.0 220.3 L145.4 216.6 L152.1 214.9 L158.8 215.2 L165.5 217.4 L173.9 219.9 L182.2 222.8 L190.6 227.0 L196.7 229.3 L203.4 228.6 L210.1 226.1 L218.5 222.3 L226.9 219.4 L235.2 216.9 L241.9 215.2 L248.6 212.7 L257.0 208.9 L263.7 208.9 L273.8 209.4 L283.8 208.5 L293.9 208.2 L303.9 206.9 L312.3 206.0 L319.0 208.2 L325.7 210.2 L333.5 212.8 L343.5 214.5 L351.9 216.2 L360.3 217.5 L367.0 216.7 L373.7 213.7 L380.4 209.5 L387.1 204.4 L393.8 198.6 L400.5 193.2 L407.2 190.2 L413.9 187.2 L420.6 184.3 L427.3 180.2 L434.0 178.5 L442.3 176.8 L446.8 175.0 L455.1 175.4 L463.5 176.7 L471.9 175.0 L480.3 172.5 L488.6 171.2 L497.0 168.7 L505.4 164.5 L513.8 159.9 L522.1 155.3 L530.5 151.1 L540.6 146.0 L547.3 139.8 L555.6 131.8 L560.2 127.0 L568.5 121.2 L576.9 117.0 L585.3 113.6 L593.7 111.1 L602.0 110.3 L610.4 111.1 L618.8 109.4 L627.2 105.3 L633.9 102.7 L640.6 102.4 L647.3 103.6 L654.0 101.9 L662.3 99.4 L672.0 99.4 L676.4 99.4 L684.8 101.9 L693.1 102.8 L701.5 104.4 L708.2 104.9 L716.6 102.8 L725.0 101.6 L735.0 98.6 L741.7 91.9 L750.1 87.7 L758.5 84.3 L766.8 81.8 L775.2 80.2 L781.9 79.9 L788.6 84.3 L795.3 89.0 L802.4 93.9" fill="none" stroke="#f2a283" stroke-width="1.2" stroke-linejoin="round" opacity="0.4"/>
<defs><linearGradient id="ag" x1="0" y1="0" x2="1" y2="0"><stop offset="0" stop-color="#fff3a8"/><stop offset="0.4" stop-color="#ffd936"/><stop offset="0.7" stop-color="#f6bc08"/><stop offset="1" stop-color="#c48a00"/></linearGradient><linearGradient id="ag2" x1="0" y1="0" x2="0" y2="1"><stop offset="0" stop-color="#fff6b0" stop-opacity="0.9"/><stop offset="0.25" stop-color="#fff6b0" stop-opacity="0"/></linearGradient></defs>
<path d="M799.4 69.2H805.8V80.9H810L802.4 92.6L795 80.9H799.4Z" fill="url(#ag)"/>
<path d="M799.4 69.2H805.8V80.9H810L802.4 92.6L795 80.9H799.4Z" fill="url(#ag2)"/>
<g stroke="#b4b4b4" stroke-width="1">
<path d="M814 22.5H817"/>
<path d="M814 40.5H817"/>
<path d="M814 58.5H817"/>
<path d="M814 75.5H817"/>
<path d="M814 93.5H817"/>
<path d="M814 111.5H817"/>
<path d="M814 129.5H817"/>
<path d="M814 146.5H817"/>
<path d="M814 164.5H817"/>
<path d="M814 182.5H817"/>
<path d="M814 199.5H817"/>
<path d="M814 217.5H817"/>
<path d="M814 235.5H817"/>
<path d="M814 252.5H817"/>
<path d="M814 270.5H817"/>
<path d="M814 288.5H817"/>
<path d="M814 305.5H817"/>
<path d="M814 339.5H817"/>
<path d="M814 361.5H817"/>
<path d="M814 382.5H817"/>
<path d="M814 404.5H817"/>
<path d="M814 425.5H817"/>
<path d="M88.5 447V450"/>
<path d="M223.5 447V450"/>
<path d="M359.5 447V450"/>
<path d="M501.5 447V450"/>
<path d="M644.5 447V450"/>
<path d="M759.5 447V450"/>
</g>
<g font-family="'DejaVu Sans','Liberation Sans',sans-serif" font-size="10.7" fill="#f4f4f4" opacity="0.99">
<text x="820.2" y="26.7">27</text>
<text x="820.2" y="44.4">26</text>
<text x="820.2" y="62.1">25</text>
<text x="820.2" y="79.8">24</text>
<text x="820.2" y="97.5">23</text>
<text x="820.2" y="115.2">22</text>
<text x="820.2" y="132.8">21</text>
<text x="820.2" y="150.5">20</text>
<text x="820.2" y="168.2">19</text>
<text x="820.2" y="185.9">18</text>
<text x="820.2" y="203.6">17</text>
<text x="820.2" y="221.3">16</text>
<text x="820.2" y="239.0">15</text>
<text x="820.2" y="256.7">14</text>
<text x="820.2" y="274.4">13</text>
<text x="820.2" y="292.1">12</text>
<text x="820.2" y="309.7">11</text>
<text x="820.2" y="343.5">125K</text>
<text x="820.2" y="364.7">100K</text>
<text x="820.2" y="386.0">75K</text>
<text x="820.2" y="407.7">50K</text>
<text x="820.2" y="429.5">25K</text>
<text x="88.5" y="462" text-anchor="middle" font-size="11">2<tspan dx="0.95">-</tspan><tspan dx="0.95">10</tspan><tspan dx="0.95">-</tspan><tspan dx="0.95">25</tspan></text>
<text x="223.6" y="462" text-anchor="middle" font-size="11">3<tspan dx="0.95">-</tspan><tspan dx="0.95">11</tspan><tspan dx="0.95">-</tspan><tspan dx="0.95">25</tspan></text>
<text x="359.5" y="462" text-anchor="middle" font-size="11">1<tspan dx="0.95">-</tspan><tspan dx="0.95">12</tspan><tspan dx="0.95">-</tspan><tspan dx="0.95">25</tspan></text>
<text x="502.0" y="462" text-anchor="middle" font-size="11">2<tspan dx="0.95">-</tspan><tspan dx="0.95">1</tspan><tspan dx="0.95">-</tspan><tspan dx="0.95">26</tspan></text>
<text x="644.4" y="462" text-anchor="middle" font-size="11">2<tspan dx="0.95">-</tspan><tspan dx="0.95">2</tspan><tspan dx="0.95">-</tspan><tspan dx="0.95">26</tspan></text>
<text x="759.9" y="462" text-anchor="middle" font-size="11">2<tspan dx="0.95">-</tspan><tspan dx="0.95">3</tspan><tspan dx="0.95">-</tspan><tspan dx="0.95">26</tspan></text>
<text x="845.8" y="475" text-anchor="end" font-size="10.4" font-family="'Liberation Sans',sans-serif">Copyright by AASTOCKS.com Ltd.</text>
</g>
</svg></body></html>
